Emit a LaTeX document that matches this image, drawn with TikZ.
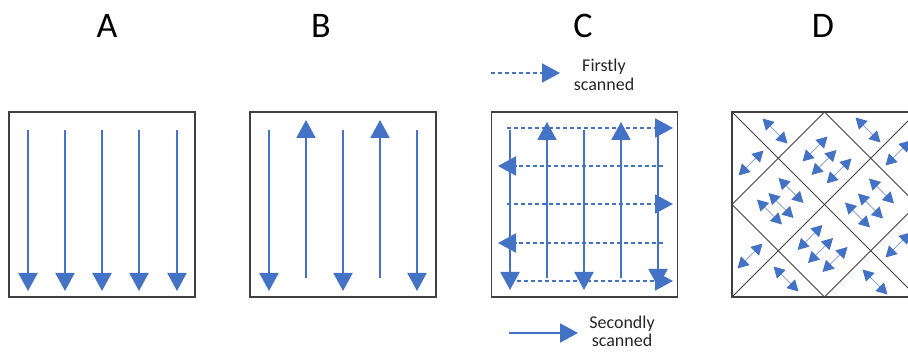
\documentclass[tikz,border=0pt]{standalone}
\usepackage{fontspec}
\setmainfont{Carlito}
\usetikzlibrary{arrows.meta,calc}
\definecolor{scanblue}{HTML}{4472C4}
\definecolor{framegray}{HTML}{404040}
\definecolor{shaftblue}{HTML}{8FA4CC}
\begin{document}
\begin{tikzpicture}[x=1pt,y=-1pt,
  frame/.style={draw=framegray,line width=1.2pt,minimum width=186pt,minimum height=185pt,inner sep=0pt},
  diag/.style={draw=framegray,line width=0.9pt},
  scan/.style={draw=scanblue,line width=2pt,-{Triangle[length=18pt,width=19pt]}},
  dscan/.style={scan,dash pattern=on 4pt off 3pt},
  twoway/.style={draw=shaftblue,line width=1pt,{Triangle[length=11pt,width=12pt,color=scanblue]}-{Triangle[length=11pt,width=12pt,color=scanblue]}},
  title/.style={font=\fontsize{36}{40}\selectfont,anchor=base},
  legend/.style={font=\fontsize{18}{20}\selectfont,text=black!85,anchor=base}]
\useasboundingbox (0,0) rectangle (908,352);
\clip (0,0) rectangle (908,352);

% titles
\node[title] (tA) at (107,38) {A};
\node[title] (tB) at (321,38) {B};
\node[title] (tC) at (583,38) {C};
\node[title] (tD) at (823,38) {D};

% frames
\node[frame] (boxA) at (102,204.5) {};
\node[frame] (boxB) at (343,204.5) {};
\node[frame] (boxC) at (584.5,204.5) {};
\node[frame] (boxD) at (825,204.5) {};

% A
\foreach \x in {28,65,102,139,177} \draw[scan] (\x,130) -- (\x,291);

% B
\foreach \x in {269,343,417} \draw[scan] (\x,130) -- (\x,291);
\foreach \x in {306,380} \draw[scan] (\x,278) -- (\x,120);

% C legend
\draw[dscan] (491,73) -- (560,73);
\node[legend] (l1a) at (604,72) {Firstly};
\node[legend] (l1b) at (604,91) {scanned};
\draw[scan] (509,333) -- (578,333);
\node[legend] (l2a) at (622,329) {Secondly};
\node[legend] (l2b) at (622,347) {scanned};

% C solid verticals
\draw[scan] (510,130) -- (510,290);
\draw[scan] (547,278) -- (547,122);
\draw[scan] (584,130) -- (584,290);
\draw[scan] (621,278) -- (621,122);
\draw[scan] (658,130) -- (658,287);
% C dashed horizontals
\draw[dscan] (507,128) -- (673,128);
\draw[dscan] (663,166) -- (498,166);
\draw[dscan] (507,204) -- (673,204);
\draw[dscan] (663,243) -- (498,243);
\draw[dscan] (517,281) -- (673,281);

% D
\begin{scope}[shift={(732,112)}]
  \draw[diag] (0,0) -- (185,185);
  \draw[diag] (0,92.5) -- (92.5,185);
  \draw[diag] (92.5,0) -- (185,92.5);
  \draw[diag] (92.5,0) -- (0,92.5);
  \draw[diag] (185,0) -- (0,185);
  \draw[diag] (185,92.5) -- (92.5,185);
  \foreach \cx/\cy/\s in {
      43/19/1, 136/18/1, 54/167/1, 143/170/1,
      19/51/-1, 18/144/-1, 166/41/-1, 166/133/-1,
      59/78.5/1, 49/93.5/1, 37.5/100/1,
      149.5/79/1, 138.5/94/1, 125.5/103/1,
      83/37/-1, 92/50.5/-1, 107/59/-1,
      78/125.5/-1, 88.5/138.5/-1, 103/147.5/-1}
    \draw[twoway] ({\cx-12.5},{\cy-12.5*\s}) -- ({\cx+12.5},{\cy+12.5*\s});
\end{scope}
\end{tikzpicture}
\end{document}
